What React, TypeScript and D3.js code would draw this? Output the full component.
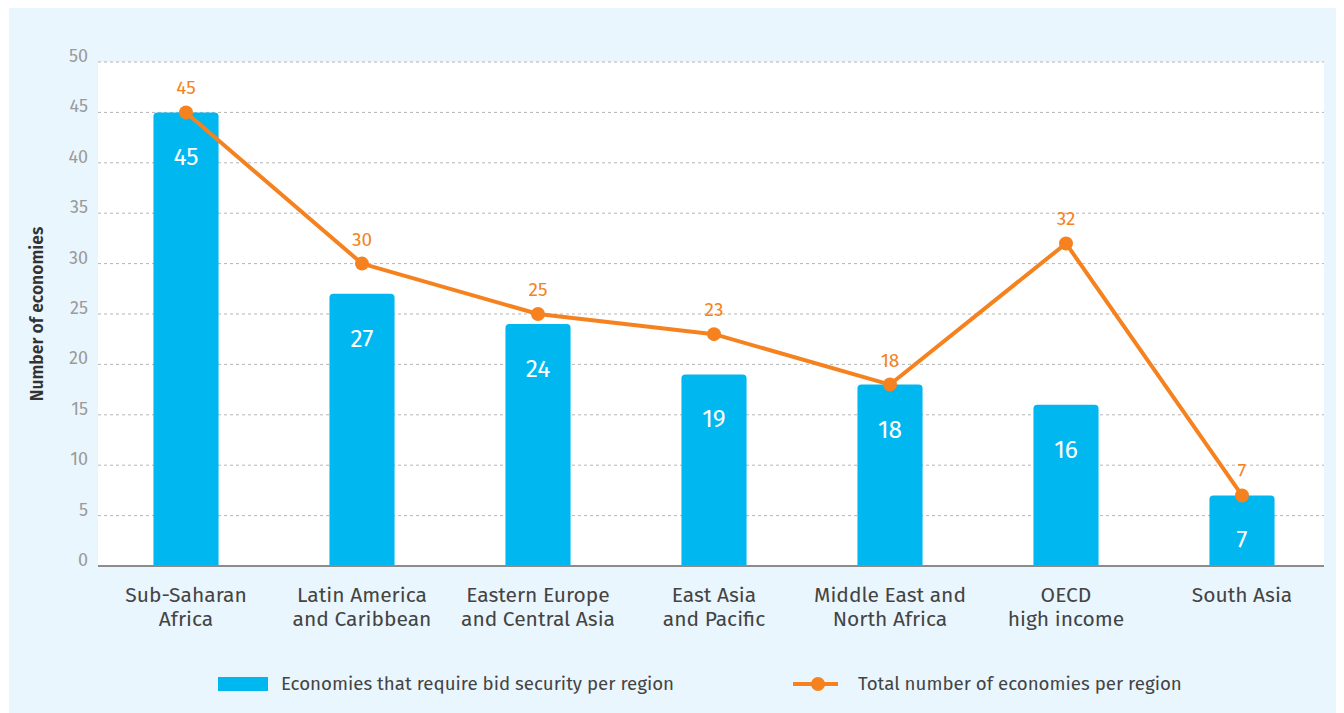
import React, { useEffect, useRef } from 'react';
import * as d3 from 'd3';

// regions on the x axis (two lines each)
const regions = [
  ['Sub-Saharan', 'Africa'],
  ['Latin America', 'and Caribbean'],
  ['Eastern Europe', 'and Central Asia'],
  ['East Asia', 'and Pacific'],
  ['Middle East and', 'North Africa'],
  ['OECD', 'high income'],
  ['South Asia'],
];
const bidSecurity = [45, 27, 24, 19, 18, 16, 7];
const totalEconomies = [45, 30, 25, 23, 18, 32, 7];
const yTicks = [0, 5, 10, 15, 20, 25, 30, 35, 40, 45, 50];

const BLUE = '#00b8ef';
const ORANGE = '#f5821f';
const FONT = '"Fira Sans", "Noto Sans", "Open Sans", sans-serif';

function App() {
  const svgRef = useRef<SVGSVGElement | null>(null);

  useEffect(() => {
    document.body.style.overflow = 'hidden';
    const svg = d3.select(svgRef.current);
    svg.selectAll('*').remove();

    const margin = { top: 62, right: 20, bottom: 147, left: 98 };
    const W = 1344, H = 713;
    const plotRight = W - margin.right;

    // light blue panel
    svg.append('rect')
      .attr('x', 9).attr('y', 8)
      .attr('width', 1327).attr('height', 705)
      .attr('fill', '#eaf6fd');

    const x = d3.scaleBand()
      .domain(regions.map(r => r.join(' ')))
      .range([margin.left, margin.left + 1232])
      .paddingInner(0.63).paddingOuter(0.315);

    const y = d3.scaleLinear()
      .domain([0, 50])
      .range([H - margin.bottom, margin.top]);

    // white plot area
    svg.append('rect')
      .attr('x', margin.left).attr('y', y(50))
      .attr('width', plotRight - margin.left)
      .attr('height', y(0) - y(50))
      .attr('fill', '#ffffff');

    // grid lines
    svg.append('g')
      .selectAll('line')
      .data(yTicks.filter(t => t > 0))
      .enter()
      .append('line')
      .attr('x1', margin.left).attr('x2', plotRight)
      .attr('y1', d => y(d)).attr('y2', d => y(d))
      .attr('stroke', '#b5b5b5')
      .attr('stroke-width', 1)
      .attr('stroke-dasharray', '3,3');

    // y tick labels
    svg.append('g')
      .selectAll('text')
      .data(yTicks)
      .enter()
      .append('text')
      .attr('x', margin.left - 10)
      .attr('y', d => y(d))
      .attr('text-anchor', 'end')
      .attr('font-family', FONT)
      .attr('font-size', 18)
      .attr('fill', '#9a9a9a')
      .text(d => d);

    svg.append('text')
      .attr('transform', `translate(43,${(y(0) + y(50)) / 2}) rotate(-90)`)
      .attr('text-anchor', 'middle')
      .attr('font-family', FONT)
      .attr('font-size', 17.5)
      .attr('font-weight', 600)
      .attr('fill', '#333')
      .text('Number of economies');

    // bars with rounded tops
    const r = 4;
    const barPath = (x0: number, w: number, top: number, bottom: number) =>
      `M${x0},${bottom}V${top + r}Q${x0},${top} ${x0 + r},${top}H${x0 + w - r}Q${x0 + w},${top} ${x0 + w},${top + r}V${bottom}Z`;

    const names = regions.map(r => r.join(' '));
    svg.append('g')
      .selectAll('path')
      .data(bidSecurity)
      .enter()
      .append('path')
      .attr('d', (d, i) => barPath(x(names[i])!, x.bandwidth(), y(d), y(0)))
      .attr('fill', BLUE);

    svg.append('g')
      .selectAll('text')
      .data(bidSecurity)
      .enter()
      .append('text')
      .attr('x', (d, i) => x(names[i])! + x.bandwidth() / 2)
      .attr('y', d => y(d) + 53)
      .attr('text-anchor', 'middle')
      .attr('font-family', FONT)
      .attr('font-size', 24.5)
      .attr('fill', '#ffffff')
      .text(d => d);

    // baseline
    svg.append('line')
      .attr('x1', margin.left).attr('x2', plotRight)
      .attr('y1', y(0)).attr('y2', y(0))
      .attr('stroke', '#8c8c8c')
      .attr('stroke-width', 2);

    // total line
    const cx = (i: number) => x(names[i])! + x.bandwidth() / 2;
    const line = d3.line<number>()
      .x((d, i) => cx(i))
      .y(d => y(d));

    svg.append('path')
      .datum(totalEconomies)
      .attr('d', line)
      .attr('fill', 'none')
      .attr('stroke', ORANGE)
      .attr('stroke-width', 4)
      .attr('stroke-linejoin', 'round');

    svg.append('g')
      .selectAll('circle')
      .data(totalEconomies)
      .enter()
      .append('circle')
      .attr('cx', (d, i) => cx(i))
      .attr('cy', d => y(d))
      .attr('r', 7)
      .attr('fill', ORANGE);

    svg.append('g')
      .selectAll('text')
      .data(totalEconomies)
      .enter()
      .append('text')
      .attr('x', (d, i) => cx(i))
      .attr('y', d => y(d) - 18)
      .attr('text-anchor', 'middle')
      .attr('font-family', FONT)
      .attr('font-size', 19)
      .attr('fill', ORANGE)
      .text(d => d);

    // x labels
    const xl = svg.append('g')
      .selectAll('text')
      .data(regions)
      .enter()
      .append('text')
      .attr('text-anchor', 'middle')
      .attr('font-family', FONT)
      .attr('font-size', 21)
      .attr('fill', '#444');
    xl.each(function (d, i) {
      d3.select(this).selectAll('tspan')
        .data(d)
        .enter()
        .append('tspan')
        .attr('x', cx(i))
        .attr('y', (t, j) => 602 + j * 24)
        .text(t => t);
    });

    // legend
    const lg = svg.append('g');
    lg.append('rect')
      .attr('x', 218).attr('y', 677)
      .attr('width', 50).attr('height', 14)
      .attr('fill', BLUE);
    lg.append('text')
      .attr('x', 281).attr('y', 690)
      .attr('font-family', FONT)
      .attr('font-size', 18.7)
      .attr('fill', '#444')
      .text('Economies that require bid security per region');
    lg.append('line')
      .attr('x1', 793).attr('x2', 838)
      .attr('y1', 684).attr('y2', 684)
      .attr('stroke', ORANGE)
      .attr('stroke-width', 4);
    lg.append('circle')
      .attr('cx', 818).attr('cy', 684).attr('r', 7)
      .attr('fill', ORANGE);
    lg.append('text')
      .attr('x', 858).attr('y', 690)
      .attr('font-family', FONT)
      .attr('font-size', 18.7)
      .attr('fill', '#444')
      .text('Total number of economies per region');
  }, []);

  return (
    <svg
      ref={svgRef}
      width={1344}
      height={713}
      style={{ position: 'absolute', left: 0, top: 0 }}
    />
  );
}

export default App;
